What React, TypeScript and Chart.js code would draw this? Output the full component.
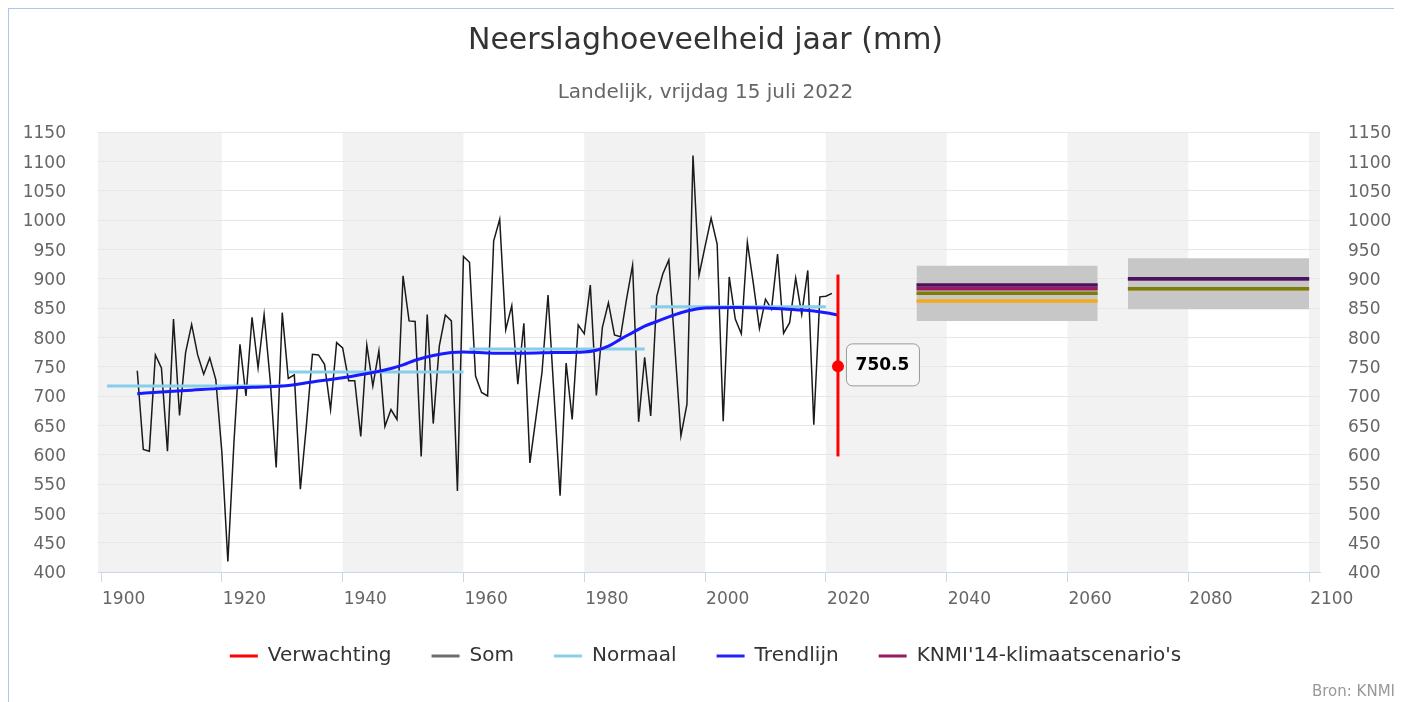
import React, { useEffect, useRef } from 'react';
import { Chart, registerables } from 'chart.js';

Chart.register(...registerables);

// ---------- data ----------
const somStartYear = 1906;
const somValues = [
  743, 609, 606, 770, 748, 606, 831, 667, 774, 822, // 1906-1915
  770, 737, 765, 728, 605, 418, 620, 788, 700, 834, // 1916-1925
  748, 839, 728, 578, 842, 730, 736, 541, 650, 771, // 1926-1935
  770, 754, 677, 791, 782, 726, 726, 631, 787, 717, // 1936-1945
  777, 648, 677, 660, 905, 828, 827, 597, 839, 653, // 1946-1955
  785, 838, 828, 538, 938, 928, 734, 706, 700, 964, // 1956-1965
  1001, 813, 854, 720, 824, 586, 663, 740, 872, 701, // 1966-1975
  530, 756, 660, 821, 806, 889, 701, 817, 859, 804, // 1976-1985
  801, 865, 923, 656, 766, 666, 870, 908, 932, 783, // 1986-1995
  632, 686, 1110, 906, 955, 1003, 959, 657, 903, 831, // 1996-2005
  806, 962, 891, 815, 865, 848, 942, 807, 825, 901, // 2006-2015
  839, 914, 651, 869, 870, 875, // 2016-2021
];

const trendYears = [1906, 1910, 1915, 1920, 1925, 1930, 1935, 1940, 1945, 1948, 1950, 1952, 1955, 1958, 1960, 1965, 1970, 1975, 1980, 1982, 1984, 1986, 1988, 1990, 1992, 1994, 1996, 1998, 2000, 2005, 2010, 2015, 2018, 2020, 2022];
const trendValues = [704, 707, 710, 713, 715, 717, 724, 731, 740, 747, 753, 761, 769, 774, 775, 773, 773, 774, 775, 778, 785, 797, 808, 819, 827, 835, 842, 847, 850, 851, 850, 847, 845, 842, 838];

const normaalStart = [1901, 1931, 1961, 1991];
const normaalEnd = [1930, 1960, 1990, 2020];
const normaalValues = [717, 741, 780, 852];

const verwachtingYear = 2022;
const verwachtingLow = 597;
const verwachtingValue = 750.5;
const verwachtingHigh = 907;

const scenarioStart = [2035, 2070];
const scenarioEnd = [2065, 2100];
const scenarioBandLow = [828, 848];
const scenarioBandHigh = [922, 935];
const scenarioNames = ['WH', 'WL', 'GH', 'GL'];
const scenarioColors = ['#4a1160', '#9e1a5e', '#7d7d0c', '#f3ab1d'];
const scenarioValuesP1 = [889, 883, 875, 862];
const scenarioValuesP2 = [900, 900, 883, 883];

const xTicks = [1900, 1920, 1940, 1960, 1980, 2000, 2020, 2040, 2060, 2080, 2100];
const greyBands = [[1880, 1920], [1940, 1960], [1980, 2000], [2020, 2040], [2060, 2080], [2100, 2120]];

const legendNames = ['Verwachting', 'Som', 'Normaal', 'Trendlijn', "KNMI'14-klimaatscenario's"];
const legendColors = ['#ff0000', '#6e6e6e', '#87ceeb', '#2222ff', '#99195e'];

const FONT = "'DejaVu Sans', sans-serif";

const bandsPlugin = {
  id: 'bands',
  beforeDraw(chart: any) {
    const { ctx, chartArea } = chart;
    const xs = chart.scales.x;
    ctx.save();
    ctx.fillStyle = '#f2f2f2';
    greyBands.forEach(([a, b]) => {
      const x1 = Math.max(xs.getPixelForValue(a), chartArea.left);
      const x2 = Math.min(xs.getPixelForValue(b), chartArea.right);
      if (x2 > x1) ctx.fillRect(x1, chartArea.top, x2 - x1, chartArea.bottom - chartArea.top);
    });
    ctx.restore();
  },
};

const valueLabelPlugin = {
  id: 'valueLabel',
  afterDatasetsDraw(chart: any) {
    const meta = chart.getDatasetMeta(0);
    const pt = meta.data[1];
    if (!pt) return;
    const { ctx } = chart;
    const x = pt.x + 8;
    const w = 73;
    const h = 42;
    const y = pt.y - 23;
    ctx.save();
    ctx.beginPath();
    ctx.roundRect(x + 0.5, y + 0.5, w, h, 6);
    ctx.fillStyle = 'rgba(247,247,247,0.9)';
    ctx.fill();
    ctx.strokeStyle = '#999999';
    ctx.lineWidth = 1;
    ctx.stroke();
    ctx.fillStyle = '#000000';
    ctx.font = `bold 17px ${FONT}`;
    ctx.textAlign = 'center';
    ctx.textBaseline = 'middle';
    ctx.fillText(String(verwachtingValue), x + w / 2, y + h / 2 + 1);
    ctx.restore();
  },
};

const creditPlugin = {
  id: 'credit',
  afterDraw(chart: any) {
    const { ctx, width } = chart;
    ctx.save();
    ctx.fillStyle = '#999999';
    ctx.font = `15px ${FONT}`;
    ctx.textAlign = 'right';
    ctx.textBaseline = 'middle';
    ctx.fillText('Bron: KNMI', width - 7, 683);
    ctx.restore();
  },
};

export default function App() {
  const ref = useRef<HTMLCanvasElement | null>(null);

  useEffect(() => {
    document.documentElement.style.overflow = 'hidden';
    if (!ref.current) return;

    const somData = somValues.map((v, i) => ({ x: somStartYear + i, y: v }));
    const trendData = trendYears.map((yr, i) => ({ x: yr, y: trendValues[i] }));
    const normaalData: any[] = [];
    normaalStart.forEach((s, i) => {
      normaalData.push({ x: s, y: normaalValues[i] });
      normaalData.push({ x: normaalEnd[i], y: normaalValues[i] });
      if (i < normaalStart.length - 1) normaalData.push({ x: normaalEnd[i] + 0.5, y: null });
    });

    const datasets: any[] = [
      {
        label: 'Verwachting',
        data: [
          { x: verwachtingYear, y: verwachtingLow },
          { x: verwachtingYear, y: verwachtingValue },
          { x: verwachtingYear, y: verwachtingHigh },
        ],
        borderColor: '#ff0000',
        backgroundColor: '#ff0000',
        borderWidth: 3,
        pointRadius: [0, 6, 0],
        pointBorderWidth: 0,
        order: 0,
      },
      {
        label: 'Trendlijn',
        data: trendData,
        borderColor: '#1a1aff',
        borderWidth: 3,
        pointRadius: 0,
        cubicInterpolationMode: 'monotone',
        order: 1,
      },
      {
        label: 'Normaal',
        data: normaalData,
        borderColor: '#87ceeb',
        borderWidth: 3,
        pointRadius: 0,
        spanGaps: false,
        order: 2,
      },
      {
        label: 'Som',
        data: somData,
        borderColor: '#1a1a1a',
        borderWidth: 1.5,
        pointRadius: 0,
        order: 3,
      },
    ];

    scenarioNames.forEach((name, si) => {
      [scenarioValuesP1, scenarioValuesP2].forEach((vals, pi) => {
        datasets.push({
          label: `${name} ${pi}`,
          data: [
            { x: scenarioStart[pi], y: vals[si] },
            { x: scenarioEnd[pi], y: vals[si] },
          ],
          borderColor: scenarioColors[si],
          borderWidth: 3.5,
          pointRadius: 0,
          order: 4,
        });
      });
    });

    scenarioStart.forEach((s, pi) => {
      datasets.push({
        label: `band ${pi}`,
        data: [
          { x: s, y: scenarioBandHigh[pi] },
          { x: scenarioEnd[pi], y: scenarioBandHigh[pi] },
        ],
        borderWidth: 0,
        borderColor: 'rgba(0,0,0,0)',
        backgroundColor: '#c7c7c7',
        fill: { value: scenarioBandLow[pi] },
        pointRadius: 0,
        order: 5,
      });
    });

    Chart.defaults.font.family = FONT;

    const chart = new Chart(ref.current, {
      type: 'line',
      data: { datasets },
      plugins: [bandsPlugin, valueLabelPlugin, creditPlugin],
      options: {
        responsive: false,
        animation: false,
        events: [],
        layout: { padding: { top: 0, left: 0, right: 0, bottom: 26 } },
        scales: {
          x: {
            type: 'linear',
            position: 'bottom',
            min: 1899.5,
            max: 2101.8,
            afterBuildTicks: (scale: any) => {
              scale.ticks = xTicks.map((v) => ({ value: v }));
            },
            afterFit: (scale: any) => {
              scale.height = 34;
            },
            grid: {
              drawOnChartArea: false,
              drawTicks: true,
              tickLength: 10,
              color: '#ccd6eb',
              tickColor: '#ccd6eb',
            },
            border: { display: true, color: '#ccd6eb', width: 1 },
            ticks: {
              align: 'start',
              padding: 7,
              labelOffset: 1,
              color: '#666666',
              font: { family: FONT, size: 17 },
              maxRotation: 0,
              autoSkip: false,
              callback: (v: any) => String(v),
            },
          },
          y: {
            type: 'linear',
            position: 'left',
            min: 400,
            max: 1150,
            afterFit: (scale: any) => {
              scale.width = 89;
            },
            grid: { color: '#e6e6e6', drawTicks: false, lineWidth: 1 },
            border: { display: false },
            ticks: {
              stepSize: 50,
              padding: 32,
              labelOffset: 2,
              color: '#666666',
              font: { family: FONT, size: 17 },
              callback: (v: any) => String(v),
            },
          },
          y2: {
            type: 'linear',
            position: 'right',
            min: 400,
            max: 1150,
            afterFit: (scale: any) => {
              scale.width = 82;
            },
            grid: { display: false, drawTicks: false },
            border: { display: false },
            ticks: {
              stepSize: 50,
              padding: 28,
              labelOffset: 2,
              color: '#666666',
              font: { family: FONT, size: 17 },
              callback: (v: any) => String(v),
            },
          },
        },
        plugins: {
          title: {
            display: true,
            text: 'Neerslaghoeveelheid jaar (mm)',
            color: '#333333',
            font: { family: FONT, size: 30, weight: 'normal', lineHeight: 1.2 },
            padding: { top: 14, bottom: 0 },
          },
          subtitle: {
            display: true,
            text: 'Landelijk, vrijdag 15 juli 2022',
            color: '#666666',
            font: { family: FONT, size: 20, weight: 'normal', lineHeight: 1.2 },
            padding: { top: 22, bottom: 27 },
          },
          legend: {
            display: true,
            position: 'bottom',
            onClick: () => {},
            labels: {
              usePointStyle: true,
              pointStyleWidth: 28,
              padding: 40,
              color: '#333333',
              font: { family: FONT, size: 20 },
              generateLabels: () =>
                legendNames.map((t, i) => ({
                  text: t,
                  fillStyle: legendColors[i],
                  strokeStyle: legendColors[i],
                  lineWidth: 3,
                  pointStyle: 'line',
                  hidden: false,
                  datasetIndex: i,
                  fontColor: '#333333',
                })),
            },
          },
          tooltip: { enabled: false },
        },
      } as any,
    });

    return () => {
      chart.destroy();
    };
  }, []);

  return (
    <div
      style={{
        width: 1394,
        height: 694,
        boxSizing: 'border-box',
        borderLeft: '1px solid #a9c8ee',
        borderTop: '1px solid #a9c8ee',
        overflow: 'hidden',
        background: '#ffffff',
      }}
    >
      <canvas ref={ref} width={1393} height={693} style={{ display: 'block', width: 1393, height: 693 }} />
    </div>
  );
}
